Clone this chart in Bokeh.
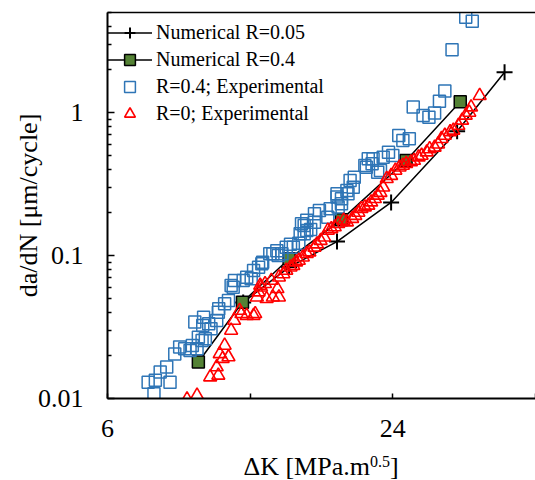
from bokeh.plotting import figure
from bokeh.models import (FixedTicker, CustomJSTickFormatter, LinearAxis,
                          Legend, LegendItem, Div)
from bokeh.layouts import column
from bokeh.embed import file_html
from bokeh.resources import INLINE

# ---------------- data ----------------
num005_dk = [11.6, 14.5, 18.3, 23.8, 32.8, 41.3]
num005_da = [0.047, 0.083, 0.125, 0.235, 0.74, 1.91]

num04_dk = [9.33, 11.56, 14.5, 18.7, 25.6, 33.3]
num04_da = [0.018, 0.0471, 0.0948, 0.178, 0.461, 1.19]

exp04_dk = [7.31, 7.52, 7.57, 7.75, 8.0, 8.13, 8.32, 8.52, 8.73, 8.96, 9.06, 9.27,
            9.33, 9.5, 9.65, 9.17, 9.53, 9.57, 9.81, 9.92, 10.2, 10.28, 10.3, 10.6,
            10.8, 10.94, 11.05, 11.12, 11.6, 11.8, 12.06, 12.2, 12.5, 12.7, 12.75,
            13.2, 13.4, 13.66, 13.75, 14.0, 14.3, 14.6, 14.8, 15.2, 15.3, 15.4, 15.6,
            15.6, 15.8, 15.8, 16.1, 16.4, 16.4, 16.8, 17.5, 17.7, 18.3, 18.3, 18.4,
            18.7, 18.7, 19.2, 19.3, 19.5, 19.8, 19.9, 20.95, 21.1, 21.3, 21.7, 21.8,
            22.3, 22.6, 22.9, 23.5, 24.0, 24.7, 25.2, 26.0, 26.5, 27.8, 28.6, 29.4,
            30.1, 30.9, 32.0, 34.2, 35.3]
exp04_da = [0.0130, 0.0108, 0.0134, 0.0153, 0.0166, 0.0130, 0.0205, 0.0229, 0.0223,
            0.0217, 0.0235, 0.0223, 0.0268, 0.0254, 0.0262, 0.0342, 0.0324, 0.0370,
            0.0333, 0.0307, 0.0351, 0.0401, 0.0424, 0.0459, 0.0484, 0.0617, 0.0600,
            0.0668, 0.0668, 0.0705, 0.0687, 0.0785, 0.0828, 0.0875, 0.0898, 0.1028,
            0.103, 0.108, 0.0999, 0.1028, 0.114, 0.12, 0.114, 0.122, 0.142, 0.1666,
            0.1417, 0.162, 0.1496, 0.176, 0.152, 0.171, 0.196, 0.206, 0.185, 0.212,
            0.256, 0.27, 0.218, 0.249, 0.23, 0.285, 0.27, 0.335, 0.30, 0.353, 0.426,
            0.414, 0.474, 0.438, 0.474, 0.382, 0.393, 0.487, 0.528, 0.50, 0.69, 0.637,
            0.655, 1.09, 0.953, 0.927, 0.99, 1.2, 1.41, 2.74, 4.64, 4.35]

exp0_dk = [8.83, 9.27, 9.88, 10.28, 10.2, 10.5, 10.35, 10.8, 10.6, 10.94, 11.1, 11.4,
           11.5, 11.8, 12.2, 12.3, 12.4, 12.5, 12.65, 13.0, 13.4, 13.7, 13.8, 12.6,
           12.9, 13.3, 13.8, 14.1, 14.3, 14.6, 14.8, 15.0, 15.2, 15.5, 15.8, 16.0,
           16.4, 16.6, 16.9, 17.2, 17.5, 17.8, 18.1, 18.4, 18.9, 19.2, 19.7, 20.0,
           20.3, 20.6, 20.95, 21.3, 21.6, 22.0, 22.3, 22.6, 22.9, 23.3, 23.8, 24.3,
           24.8, 25.2, 25.6, 26.2, 26.6, 27.2, 27.6, 28.3, 28.7, 29.4, 29.9, 30.4,
           30.9, 31.7, 32.2, 33.0, 33.6, 34.2, 34.8, 35.1, 36.6]
exp0_da = [0.0099, 0.0105, 0.0141, 0.0145, 0.0166, 0.0190, 0.0205, 0.0195, 0.0235,
           0.0299, 0.0351, 0.0412, 0.0391, 0.0380, 0.0380, 0.0391, 0.0511, 0.0554,
           0.060, 0.0498, 0.0511, 0.0585, 0.0511, 0.0617, 0.0634, 0.0668, 0.0705,
           0.0743, 0.0785, 0.0828, 0.085, 0.0898, 0.0922, 0.0973, 0.1028, 0.1055,
           0.114, 0.12, 0.127, 0.134, 0.1496, 0.1536, 0.158, 0.1666, 0.176, 0.171,
           0.181, 0.19, 0.20, 0.212, 0.218, 0.224, 0.236, 0.249, 0.263, 0.275, 0.30,
           0.344, 0.362, 0.393, 0.414, 0.426, 0.438, 0.45, 0.461, 0.487, 0.50, 0.528,
           0.556, 0.57, 0.60, 0.655, 0.69, 0.73, 0.75, 0.81, 0.88, 0.955, 1.0, 1.09,
           1.31]

x_tick_values = [6, 12, 24, 48]
x_tick_labels = ["6", "", "24", ""]
y_tick_values = [0.01, 0.1, 1]
y_tick_labels = ["0.01", "0.1", "1"]

names = ["Numerical R=0.05", "Numerical R=0.4", "R=0.4; Experimental", "R=0; Experimental"]
y_title = "da/dN [μm/cycle]"
x_title_main = "ΔK [MPa.m"
x_title_sup = "0.5"

# ---------------- figure ----------------
FONT = "Liberation Serif"
p = figure(width=535, height=450, x_axis_type="log", y_axis_type="log",
           x_range=(6, 48), y_range=(0.01, 5), output_backend="svg",
           toolbar_location=None, min_border_left=107, min_border_right=0,
           min_border_top=12, min_border_bottom=52)
p.xgrid.visible = False
p.ygrid.visible = False
p.outline_line_color = None
p.background_fill_color = "white"

# numerical series
l1 = p.line(num005_dk, num005_da, line_color="black", line_width=1.5)
s1 = p.scatter(num005_dk, num005_da, marker="cross", size=16, line_color="black", line_width=2)
l2 = p.line(num04_dk, num04_da, line_color="black", line_width=1.5)
s2 = p.scatter(num04_dk, num04_da, marker="square", size=12, fill_color="#548235",
               line_color="black", line_width=1.5)
# experimental
s3 = p.scatter(exp04_dk, exp04_da, marker="square", size=12, fill_color=None,
               line_color="#2E75B6", line_width=1.5)
s4 = p.scatter(exp0_dk, exp0_da, marker="triangle", size=13, fill_color=None,
               line_color="#FF0000", line_width=1.6)

legend = Legend(items=[LegendItem(label=names[0], renderers=[l1, s1]),
                       LegendItem(label=names[1], renderers=[l2, s2]),
                       LegendItem(label=names[2], renderers=[s3]),
                       LegendItem(label=names[3], renderers=[s4])],
                location=(0, 271), margin=0, padding=1, spacing=0,
                glyph_width=45, glyph_height=27, label_height=27, label_standoff=4,
                label_text_font=FONT, label_text_font_size="20px",
                label_text_color="black",
                background_fill_alpha=0, border_line_color=None)
p.add_layout(legend)

# axes
xa = p.xaxis[0]
xa.ticker = FixedTicker(ticks=x_tick_values, minor_ticks=[])
xa.formatter = CustomJSTickFormatter(args=dict(vals=x_tick_values, labs=x_tick_labels),
                                     code="const i = vals.indexOf(tick); return i >= 0 ? labs[i] : '';")
ya = p.yaxis[0]
y_minor = [m * 10.0 ** e for e in (-2, -1, 0) for m in range(2, 10) if m * 10.0 ** e <= 5]
ya.ticker = FixedTicker(ticks=y_tick_values, minor_ticks=y_minor)
ya.formatter = CustomJSTickFormatter(args=dict(vals=y_tick_values, labs=y_tick_labels),
                                     code="const i = vals.indexOf(tick); return i >= 0 ? labs[i] : '';")
for ax in (xa, ya):
    ax.axis_line_color = "black"
    ax.axis_line_width = 2
    ax.major_tick_line_color = "black"
    ax.minor_tick_line_color = "black"
    ax.major_tick_line_width = 1.5
    ax.minor_tick_line_width = 1.5
    ax.major_tick_out = 0
    ax.minor_tick_out = 0
    ax.major_label_text_font = FONT
    ax.major_label_text_font_size = "26px"
    ax.major_label_text_color = "black"
    ax.axis_label_text_font = FONT
    ax.axis_label_text_font_size = "26px"
    ax.axis_label_text_font_style = "normal"
    ax.axis_label_text_color = "black"
xa.major_tick_in = 5
ya.major_tick_in = 7
ya.minor_tick_in = 4
xa.major_label_standoff = 21
ya.major_label_standoff = 24
ya.axis_label = y_title
ya.axis_label_standoff = -8

top = LinearAxis(ticker=FixedTicker(ticks=[]), major_label_text_font_size="0px",
                 major_tick_line_color=None, minor_tick_line_color=None,
                 axis_line_color="black", axis_line_width=1.5)
p.add_layout(top, "above")

# x axis title with superscript, below the plot
xtitle = Div(
    text=('<div style="margin-left:107px;width:428px;padding-top:3px;text-align:center;'
          'font-family:\'Liberation Serif\';font-size:26px;line-height:27px;'
          'color:black;white-space:nowrap;">' + x_title_main +
          '<span style="font-size:16px;vertical-align:8px;line-height:0;">' +
          x_title_sup + '</span>]</div>'),
    width=535, height=30, margin=(0, 0, 0, 0))

layout = column(p, xtitle, spacing=0)
open("out.html", "w").write(file_html(layout, INLINE))
